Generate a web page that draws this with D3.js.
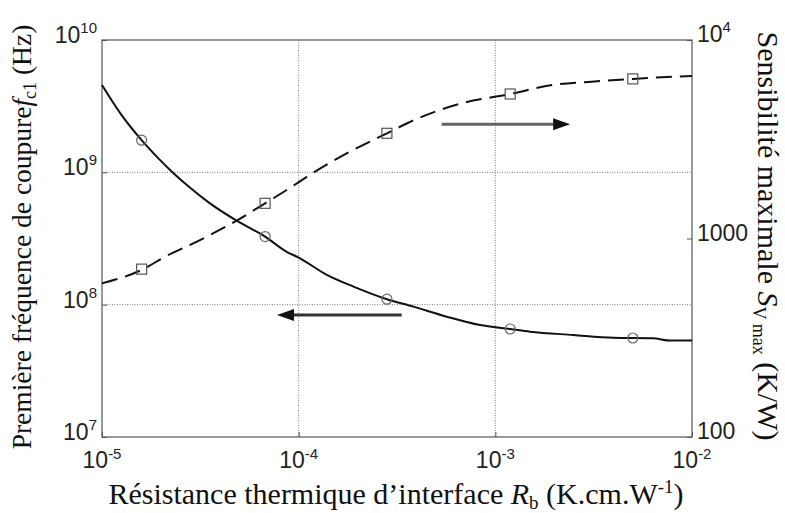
<!DOCTYPE html>
<html>
<head>
<meta charset="utf-8">
<script src="https://cdn.jsdelivr.net/npm/d3@7"></script>
<style>
  html, body { margin: 0; padding: 0; background: #fff; }
  svg { display: block; }
  .tick-label { font-family: "Liberation Sans", Arial, sans-serif; font-size: 23px; fill: #222; }
  .axis-title { font-family: "Liberation Serif", "Times New Roman", serif; fill: #111; }
</style>
</head>
<body>
<svg id="chart" width="785" height="513"></svg>
<script>
// Thermal boundary resistance (K.cm.W-1)
const rbLine = [1.0e-5, 1.24e-5, 1.59e-5, 1.93e-5, 2.31e-5, 2.70e-5, 3.54e-5, 4.84e-5, 6.75e-5, 8.69e-5,
  1.0e-4, 1.39e-4, 1.90e-4, 2.81e-4, 3.83e-4, 5.66e-4, 8.36e-4, 1.19e-3, 1.50e-3, 2.49e-3,
  3.98e-3, 6.35e-3, 7.73e-3, 1.0e-2];
// First cut-off frequency fc1 (Hz), solid line, left axis
const fc1Line = [4.57e9, 2.79e9, 1.75e9, 1.28e9, 9.84e8, 8.02e8, 5.83e8, 4.31e8, 3.27e8, 2.51e8,
  2.27e8, 1.68e8, 1.37e8, 1.10e8, 9.66e7, 8.11e7, 7.01e7, 6.55e7, 6.25e7, 5.90e7,
  5.62e7, 5.57e7, 5.35e7, 5.35e7];

const rbSens = [1.0e-5, 1.62e-5, 2.09e-5, 3.15e-5, 4.84e-5, 6.75e-5, 8.69e-5, 1.19e-4, 1.82e-4,
  2.81e-4, 4.06e-4, 6.75e-4, 1.19e-3, 1.94e-3, 3.09e-3, 5.0e-3, 7.02e-3, 1.0e-2];
// Max sensitivity Sv max (K/W), dashed line, right axis
const sensLine = [594, 701, 809, 982, 1231, 1504, 1755, 2148, 2735,
  3388, 4036, 4800, 5346, 5932, 6165, 6369, 6486, 6590];

// Simulated points (markers)
const rbMarkers = [1.59e-5, 6.75e-5, 2.81e-4, 1.19e-3, 5.0e-3];
const fc1Markers = [1.75e9, 3.27e8, 1.10e8, 6.55e7, 5.6e7];
const sensMarkers = [701, 1504, 3388, 5346, 6369];

// Ticks
const xTicks = [1e-5, 1e-4, 1e-3, 1e-2];
const xTickExp = ['-5', '-4', '-3', '-2'];
const leftTicks = [1e7, 1e8, 1e9, 1e10];
const leftTickExp = ['7', '8', '9', '10'];
const rightTicks = [100, 1000, 1e4];
const rightTickBase = ['100', '1000', '10'];
const rightTickExp = ['', '', '4'];
const xGrid = [1e-4, 1e-3];
const yGrid = [1e8, 1e9];

// Arrows pointing to the axis of each curve (x0 -> x1, at left-axis value y)
const arrowRight = [5.33e-4, 2.40e-3, 2.31e9];
const arrowLeft = [3.34e-4, 7.76e-5, 8.36e7];

const margin = { left: 102, right: 93, top: 40, bottom: 76 };
const width = 785 - margin.left - margin.right;
const height = 513 - margin.top - margin.bottom;

const svg = d3.select('#chart');

const x = d3.scaleLog().domain([1e-5, 1e-2]).range([0, width]);
const yLeft = d3.scaleLog().domain([1e7, 1e10]).range([height, 0]);
const yRight = d3.scaleLog().domain([100, 1e4]).range([height, 0]);

const g = svg.append('g')
  .attr('transform', `translate(${margin.left},${margin.top})`);

// Grid (dotted)
g.append('g')
  .attr('class', 'grid-x')
  .selectAll('line')
  .data(xGrid)
  .join('line')
  .attr('x1', d => x(d)).attr('x2', d => x(d))
  .attr('y1', 0).attr('y2', height)
  .attr('stroke', '#777')
  .attr('stroke-dasharray', '1,1.5');

g.append('g')
  .attr('class', 'grid-y')
  .selectAll('line')
  .data(yGrid)
  .join('line')
  .attr('x1', 0).attr('x2', width)
  .attr('y1', d => yLeft(d)).attr('y2', d => yLeft(d))
  .attr('stroke', '#777')
  .attr('stroke-dasharray', '1,1.5');

// Inward ticks via axes
const styleAxis = sel => {
  sel.select('.domain').remove();
  sel.selectAll('.tick line').attr('stroke', '#555');
};

g.append('g')
  .attr('transform', `translate(0,${height})`)
  .call(d3.axisBottom(x).tickValues(xTicks).tickSizeInner(-5).tickSizeOuter(0).tickFormat(''))
  .call(styleAxis);

g.append('g')
  .call(d3.axisLeft(yLeft).tickValues(leftTicks).tickSizeInner(-5).tickSizeOuter(0).tickFormat(''))
  .call(styleAxis);

g.append('g')
  .attr('transform', `translate(${width},0)`)
  .call(d3.axisRight(yRight).tickValues(rightTicks).tickSizeInner(-5).tickSizeOuter(0).tickFormat(''))
  .call(styleAxis);

// Frame
g.append('rect')
  .attr('x', 0).attr('y', 0)
  .attr('width', width).attr('height', height)
  .attr('fill', 'none')
  .attr('stroke', '#555')
  .attr('stroke-width', 1.2);

// Tick labels
const xLabels = g.append('g').selectAll('text')
  .data(xTicks)
  .join('text')
  .attr('class', 'tick-label')
  .attr('x', d => x(d))
  .attr('y', height + 31)
  .attr('text-anchor', 'middle');
xLabels.append('tspan').text('10');
xLabels.append('tspan').attr('dy', -9).attr('font-size', 15).text((d, i) => xTickExp[i]);

const leftLabels = g.append('g').selectAll('text')
  .data(leftTicks)
  .join('text')
  .attr('class', 'tick-label')
  .attr('x', -5)
  .attr('y', d => yLeft(d) + 3)
  .attr('text-anchor', 'end');
leftLabels.append('tspan').text('10');
leftLabels.append('tspan').attr('dy', -10).attr('font-size', 15).text((d, i) => leftTickExp[i]);

const rightLabels = g.append('g').selectAll('text')
  .data(rightTicks)
  .join('text')
  .attr('class', 'tick-label')
  .attr('x', width + 5)
  .attr('y', d => yRight(d) + 2)
  .attr('text-anchor', 'start');
rightLabels.append('tspan').text((d, i) => rightTickBase[i]);
rightLabels.append('tspan').attr('dy', -10).attr('font-size', 15).text((d, i) => rightTickExp[i]);

// Curves
const fc1Data = rbLine.map((r, i) => ({ x: r, y: fc1Line[i] }));
const sensData = rbSens.map((r, i) => ({ x: r, y: sensLine[i] }));

g.append('path')
  .datum(fc1Data)
  .attr('fill', 'none')
  .attr('stroke', '#111')
  .attr('stroke-width', 2)
  .attr('d', d3.line().curve(d3.curveMonotoneX).x(d => x(d.x)).y(d => yLeft(d.y)));

g.append('path')
  .datum(sensData)
  .attr('fill', 'none')
  .attr('stroke', '#111')
  .attr('stroke-width', 2)
  .attr('stroke-dasharray', '16,8')
  .attr('d', d3.line().curve(d3.curveMonotoneX).x(d => x(d.x)).y(d => yRight(d.y)));

// Markers
g.append('g').selectAll('circle')
  .data(rbMarkers)
  .join('circle')
  .attr('cx', d => x(d))
  .attr('cy', (d, i) => yLeft(fc1Markers[i]))
  .attr('r', 5)
  .attr('fill', 'none')
  .attr('stroke', '#666')
  .attr('stroke-width', 1.2);

g.append('g').selectAll('rect')
  .data(rbMarkers)
  .join('rect')
  .attr('x', d => x(d) - 5)
  .attr('y', (d, i) => yRight(sensMarkers[i]) - 5)
  .attr('width', 10)
  .attr('height', 10)
  .attr('fill', 'none')
  .attr('stroke', '#555')
  .attr('stroke-width', 1.2);

// Arrows
const drawArrow = (a, lineColor) => {
  const x0 = x(a[0]), x1 = x(a[1]), yy = yLeft(a[2]);
  const dir = Math.sign(x1 - x0);
  const headLen = 17, headHalf = 6;
  g.append('line')
    .attr('x1', x0).attr('x2', x1 - dir * headLen)
    .attr('y1', yy).attr('y2', yy)
    .attr('stroke', lineColor)
    .attr('stroke-width', 3);
  g.append('path')
    .attr('d', `M${x1},${yy} L${x1 - dir * headLen},${yy - headHalf} L${x1 - dir * headLen},${yy + headHalf} Z`)
    .attr('fill', '#111');
};
drawArrow(arrowRight, '#666');
drawArrow(arrowLeft, '#333');

// Axis titles
const xTitle = svg.append('text')
  .attr('class', 'axis-title')
  .attr('font-size', 30)
  .attr('x', 396)
  .attr('y', 504)
  .attr('text-anchor', 'middle');
xTitle.append('tspan').text('Résistance thermique d’interface ');
xTitle.append('tspan').attr('font-style', 'italic').text('R');
xTitle.append('tspan').attr('font-size', 19).attr('dy', 5).text('b');
xTitle.append('tspan').attr('dy', -5).text(' (K.cm.W');
xTitle.append('tspan').attr('font-size', 19).attr('dy', -11).text('-1');
xTitle.append('tspan').attr('dy', 11).text(')');

const leftTitle = svg.append('text')
  .attr('class', 'axis-title')
  .attr('font-size', 27.5)
  .attr('transform', 'translate(31,237) rotate(-90)')
  .attr('text-anchor', 'middle');
leftTitle.append('tspan').text('Première fréquence de coupure');
leftTitle.append('tspan').attr('font-style', 'italic').text('f');
leftTitle.append('tspan').attr('font-size', 18).attr('dy', 5).text('c1');
leftTitle.append('tspan').attr('dy', -5).text(' (Hz)');

const rightTitle = svg.append('text')
  .attr('class', 'axis-title')
  .attr('font-size', 30)
  .attr('transform', 'translate(758,236) rotate(90)')
  .attr('text-anchor', 'middle');
rightTitle.append('tspan').text('Sensibilité maximale ');
rightTitle.append('tspan').attr('font-style', 'italic').text('S');
rightTitle.append('tspan').attr('font-size', 18).attr('dy', 5).text('V max');
rightTitle.append('tspan').attr('dy', -5).text('  (K/W)');
</script>
</body>
</html>
